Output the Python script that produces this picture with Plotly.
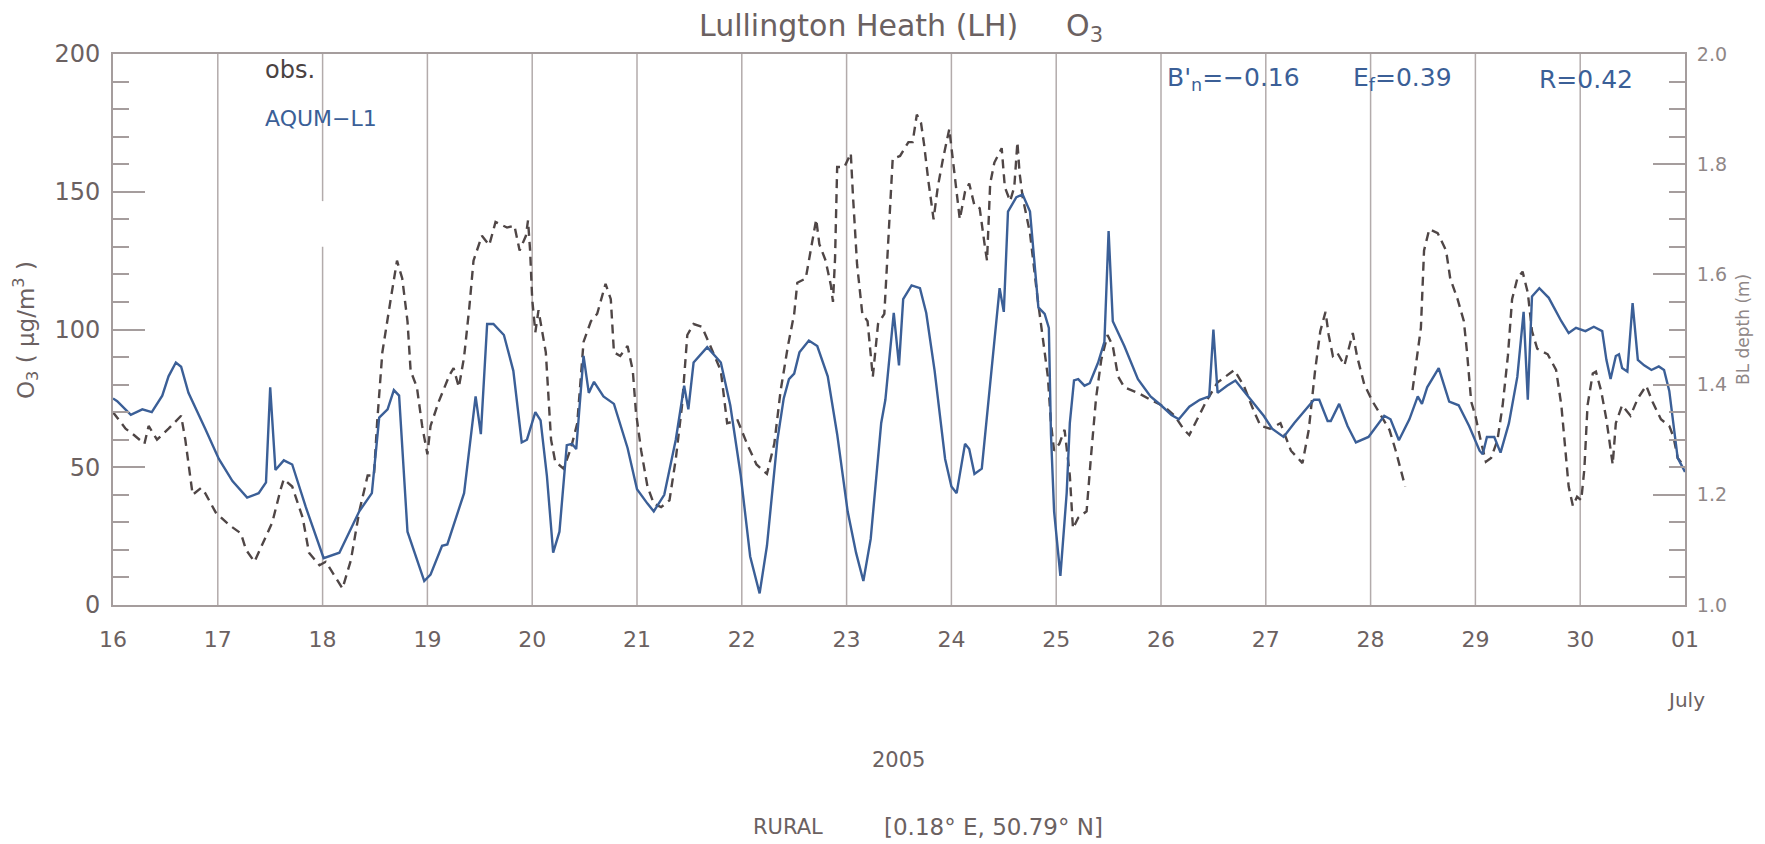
import plotly.graph_objects as go

# ---------------- data ----------------
x_tick_vals = list(range(16, 32))
x_tick_text = ["16", "17", "18", "19", "20", "21", "22", "23", "24", "25",
               "26", "27", "28", "29", "30", "01"]

mod_day = [16.00, 16.04, 16.17, 16.28, 16.37, 16.47, 16.53, 16.60, 16.65, 16.72, 16.88,
           17.01, 17.14, 17.28, 17.39, 17.46, 17.50, 17.55, 17.63, 17.71, 17.84,
           18.01, 18.16, 18.35, 18.47, 18.54, 18.62, 18.68, 18.73, 18.81, 18.97,
           19.03, 19.14, 19.19, 19.35, 19.46, 19.51, 19.57, 19.63, 19.73, 19.82, 19.90, 19.95,
           20.03, 20.08, 20.14, 20.20, 20.26, 20.33, 20.38, 20.42, 20.49, 20.54, 20.59, 20.68, 20.78, 20.91,
           21.00, 21.10, 21.16, 21.26, 21.37, 21.45, 21.49, 21.54, 21.67, 21.80, 21.89, 21.99,
           22.08, 22.17, 22.24, 22.34, 22.40, 22.45, 22.50, 22.55, 22.64, 22.72, 22.82, 22.91,
           23.01, 23.09, 23.16, 23.23, 23.33, 23.37, 23.41, 23.45, 23.50, 23.54, 23.62, 23.70, 23.76, 23.84, 23.94,
           24.00, 24.05, 24.13, 24.17, 24.22, 24.29, 24.38, 24.46, 24.50, 24.54, 24.62, 24.68, 24.75, 24.83, 24.89, 24.93, 24.95, 24.98,
           25.04, 25.10, 25.13, 25.17, 25.21, 25.27, 25.32, 25.40, 25.46, 25.50, 25.54, 25.65, 25.78, 25.90,
           26.00, 26.10, 26.17, 26.27, 26.37, 26.46, 26.50, 26.54, 26.63, 26.71, 26.79, 26.89, 26.98,
           27.06, 27.17, 27.27, 27.36, 27.46, 27.51, 27.59, 27.62, 27.70, 27.78, 27.86, 27.98,
           28.13, 28.19, 28.27, 28.37, 28.45, 28.49, 28.54, 28.65, 28.75, 28.84, 28.94,
           29.04, 29.07, 29.11, 29.18, 29.24, 29.32, 29.40, 29.46, 29.50, 29.54, 29.61, 29.70, 29.82, 29.89, 29.96,
           30.05, 30.13, 30.21, 30.25, 30.29, 30.34, 30.37, 30.40, 30.45, 30.50, 30.55, 30.61, 30.68, 30.75, 30.80, 30.85, 30.93, 31.00]
mod_o3 = [75, 74, 69, 71, 70, 76, 83, 88, 86.5, 77, 64,
          53, 45, 39, 40.6, 44.5, 79, 49, 52.5, 51, 35.5,
          17, 19, 34, 40.6, 68, 71, 78, 76, 26.6, 8.7,
          11, 21.5, 22, 40.6, 75.7, 62, 102, 102, 98, 85, 59, 60,
          70, 67, 47, 19, 26.6, 58, 58.5, 56.6, 90.4, 77, 81, 75.7, 73, 57,
          42, 36.8, 34, 40, 60, 79.6, 71, 88, 93.6, 88, 72.5, 47,
          17.6, 4.2, 21.5, 60, 75, 82, 84, 91.7, 96, 94, 83, 62,
          34, 19, 8.7, 24, 66, 74.5, 90, 106, 87, 111, 116, 115, 106, 85, 53,
          43, 40.6, 58.5, 56.6, 47.6, 49.5, 83, 115, 106.4, 142.8, 148, 149, 142.8, 108, 105.7, 100.6, 62, 34,
          10.6, 40.6, 66, 81.5, 82, 79.6, 80.5, 88, 95.5, 135.7, 103, 94, 82, 75.7,
          72.5, 69, 67.4, 72, 74.5, 75.7, 100, 77, 79.6, 81.5, 77.7, 73, 68.7,
          64, 61, 66, 70, 74.5, 74.5, 66.8, 66.8, 73, 65, 59, 61,
          68.7, 67.4, 59.8, 67.4, 75.7, 73, 79, 86, 73.8, 72.5, 65,
          56, 54.7, 61, 61, 55.3, 66, 82.8, 106.4, 74.5, 112, 115, 111.5, 103, 98.7, 100.6,
          99.4, 101, 99.4, 89, 82, 90.4, 91, 86, 84.7, 109.6, 89, 87, 85.3, 86.6, 85.3, 77.7, 53.4, 48.3]

obs_day = [16.00, 16.04, 16.12, 16.20, 16.30, 16.34, 16.42, 16.53, 16.65, 16.69, 16.76, 16.84, 16.88, 16.98,
           17.11, 17.22, 17.27, 17.35, 17.42, 17.52, 17.60, 17.63, 17.71, 17.81, 17.87, 17.97,
           18.03, 18.12, 18.19, 18.27, 18.35, 18.43, 18.49, 18.52, 18.57, 18.65, 18.71, 18.76, 18.81, 18.84, 18.90, 18.95,
           19.00, 19.03, 19.11, 19.21, 19.25, 19.30, 19.35, 19.40, 19.44, 19.52, 19.59, 19.65, 19.73, 19.76, 19.83, 19.88, 19.94, 19.96, 19.98,
           20.00, 20.03, 20.06, 20.13, 20.18, 20.22, 20.30, 20.37, 20.43, 20.49, 20.56, 20.62, 20.70, 20.75, 20.78, 20.84, 20.91, 20.96, 20.99,
           21.04, 21.10, 21.16, 21.23, 21.31, 21.37, 21.43, 21.48, 21.54, 21.62, 21.70, 21.80, 21.86, 21.96,
           22.05, 22.14, 22.24, 22.31, 22.37, 22.44, 22.50, 22.53, 22.61, 22.66, 22.71, 22.74, 22.80, 22.85, 22.87, 22.89, 22.91, 22.98,
           23.04, 23.06, 23.10, 23.15, 23.20, 23.25, 23.30, 23.36, 23.40, 23.44, 23.51, 23.59, 23.63, 23.67, 23.71, 23.74, 23.78, 23.83, 23.87, 23.92, 23.98,
           24.02, 24.05, 24.08, 24.13, 24.17, 24.22, 24.27, 24.32, 24.34, 24.37, 24.41, 24.48, 24.51, 24.56, 24.60, 24.63, 24.65, 24.68, 24.75, 24.82, 24.89, 24.92, 24.95, 24.98,
           25.03, 25.08, 25.13, 25.16, 25.21, 25.29, 25.33, 25.38, 25.43, 25.49, 25.54, 25.59, 25.65, 25.78, 25.90,
           26.03, 26.13, 26.22, 26.27, 26.35, 26.43, 26.54, 26.70, 26.79, 26.89, 26.95,
           27.04, 27.14, 27.20, 27.24, 27.35, 27.41, 27.47, 27.52, 27.57, 27.60, 27.64, 27.68, 27.75, 27.79, 27.83, 27.87, 27.94,
           28.02, 28.10, 28.18, 28.24, 28.30, 28.33, 28.36, 28.40, 28.43, 28.48, 28.51, 28.56, 28.64, 28.72, 28.76, 28.83, 28.89, 28.92, 28.96,
           29.00, 29.05, 29.10, 29.15, 29.21, 29.26, 29.31, 29.35, 29.40, 29.45, 29.50, 29.54, 29.59, 29.69, 29.77, 29.82, 29.86, 29.89, 29.93, 29.97,
           30.01, 30.04, 30.07, 30.12, 30.15, 30.20, 30.25, 30.28, 30.31, 30.34, 30.40, 30.48, 30.55, 30.63, 30.69, 30.77, 30.85, 30.89, 30.93, 30.98]
obs_o3 = [70, 68, 64, 61.7, 58.5, 65, 60, 64, 68.7, 60, 40, 42.5, 40.6, 33.6,
          29, 26, 20, 15.7, 21.5, 30, 42, 45.7, 43, 31.7, 19, 14.4,
          15.7, 10, 6, 16.3, 34, 47, 47, 66, 91.7, 111, 125, 118.5, 103, 85, 79, 65,
          54.7, 65, 74, 83.4, 86, 79, 90, 108, 125, 134, 130.6, 139, 137.7, 137, 137.7, 128.7, 134, 139.6, 128.7,
          111, 99, 107, 91.7, 60, 52, 49.5, 57, 66, 95.5, 103, 105.7, 116.6, 111, 91.7, 90.4, 94, 85, 70,
          56, 43, 36.8, 35.5, 38, 53, 72.5, 98, 102, 101, 94, 85, 66, 67,
          58.5, 51, 47.6, 58.5, 77.7, 94, 105.7, 117, 118.5, 128.7, 140, 131, 125, 116, 110, 126, 159, 159,
          164, 149, 123.6, 105.7, 103, 82.8, 102, 105.7, 132.6, 162, 163, 168, 168, 178, 175, 167, 154, 140, 151.7, 162, 172.8,
          160, 149, 140, 150, 153, 145, 144, 130, 125, 153, 160.6, 165.8, 151.7, 146.6, 151.7, 168, 157, 148, 135, 112, 91.7, 83, 66, 56,
          58.5, 63.6, 47, 27.8, 31.7, 34, 53, 75, 89, 98, 94, 83, 79, 77, 74.5,
          72, 68.7, 63.6, 61.7, 68, 73.8, 80.8, 85.3, 79.6, 70, 65,
          64, 66, 60, 56, 51.5, 63.6, 85, 99.4, 106.4, 98, 90.4, 91.7, 87, 93, 98.7, 90.4, 80,
          73.8, 68.7, 63.6, 56, 47, 43, None, 78, 87, 100.6, 128.7, 136.4, 135, 128.7, 118.5, 111, 103, 91.7, 73.8,
          68.7, 59.8, 52, 53.4, 59.8, 72.5, 90.4, 111, 118.5, 121, 113.4, 99.4, 93, 91, 85.3, 72.5, 56, 43, 36, 39.3,
          38, 49.5, 72.5, 84, 84.7, 77.7, 67.4, 59.8, 51, 66, 72.5, 68.7, 75, 79.6, 73.8, 67.4, 65, 61, 53.4, 51]

# ---------------- styling ----------------
W, H = 1765, 844
L, R, T, B = 113, 1685, 54, 605   # plot area in page pixels
FONT = "DejaVu Sans"
TXT = "#6b6161"
AXC = "#a59d9d"
GRID = "#b3abab"
BLUE = "#3b5f97"
DASHC = "#4f4646"


def px(xp):
    return (xp - L) / (R - L)


def py(yp):
    return (B - yp) / (B - T)


fig = go.Figure()

fig.add_trace(go.Scatter(x=obs_day, y=obs_o3, mode="lines", name="obs.",
                         line=dict(color=DASHC, width=2.4, dash="9px,6px"),
                         connectgaps=False))
fig.add_trace(go.Scatter(x=mod_day, y=mod_o3, mode="lines", name="AQUM-L1",
                         line=dict(color=BLUE, width=2.4)))
# invisible trace to activate right axis
fig.add_trace(go.Scatter(x=[16], y=[1.0], yaxis="y2", mode="markers",
                         marker=dict(opacity=0), showlegend=False, hoverinfo="skip"))

shapes = []
for d in range(17, 31):
    if d == 18:
        shapes.append(dict(type="line", xref="x", yref="y", x0=d, x1=d, y0=0, y1=130,
                           line=dict(color=GRID, width=1.5), layer="below"))
        shapes.append(dict(type="line", xref="x", yref="y", x0=d, x1=d, y0=146.6, y1=200,
                           line=dict(color=GRID, width=1.5), layer="below"))
    else:
        shapes.append(dict(type="line", xref="x", yref="y", x0=d, x1=d, y0=0, y1=200,
                           line=dict(color=GRID, width=1.5), layer="below"))

ann = []


def add(text, xp, yp, size, color=TXT, xanchor="center", angle=0, yanchor="middle"):
    ann.append(dict(text=text, x=px(xp), y=py(yp), xref="paper", yref="paper",
                    showarrow=False, xanchor=xanchor, yanchor=yanchor, textangle=angle,
                    font=dict(family=FONT, size=size, color=color)))


add("Lullington Heath (LH)     O<sub>3</sub>", 901, 28, 30)
add("O<sub>3</sub> ( μg/m<sup>3</sup> )", 25, 330, 23, angle=-90)
add("BL depth (m)", 1743, 330, 17, color="#8f8787", angle=-90)
add("obs.", 263, 70, 24, color="#4a4242", xanchor="left")
add("AQUM−L1", 263, 119, 22, color=BLUE, xanchor="left")
add("B'<sub>n</sub>=−0.16", 1165, 79, 25, color=BLUE, xanchor="left")
add("E<sub>f</sub>=0.39", 1351, 79, 25, color=BLUE, xanchor="left")
add("R=0.42", 1537, 79, 25, color=BLUE, xanchor="left")
add("July", 1686, 700, 20)
add("2005", 898, 760, 21)
add("RURAL", 788, 827, 21)
add("[0.18° E, 50.79° N]", 993, 827, 23)

fig.update_layout(
    width=W, height=H,
    margin=dict(l=L, r=W - R, t=T, b=H - B, pad=0),
    paper_bgcolor="white", plot_bgcolor="white",
    showlegend=False,
    shapes=shapes,
    annotations=ann,
    xaxis=dict(range=[16, 31], tickvals=x_tick_vals, ticktext=x_tick_text,
               showgrid=False, zeroline=False, ticks="", showline=True, mirror=True,
               linecolor=AXC, linewidth=2,
               tickfont=dict(family=FONT, size=22, color=TXT), ticklabelstandoff=14),
    yaxis=dict(range=[0, 200], tickvals=[0, 50, 100, 150, 200], showgrid=False, zeroline=False,
               ticks="inside", ticklen=32, tickwidth=2, tickcolor=AXC,
               minor=dict(ticks="inside", ticklen=16, dtick=10, tickwidth=2, tickcolor=AXC, showgrid=False),
               showline=True, linecolor=AXC, linewidth=2,
               tickfont=dict(family=FONT, size=24, color=TXT), ticklabelstandoff=6),
    yaxis2=dict(range=[1.0, 2.0], overlaying="y", side="right",
                tickvals=[1.0, 1.2, 1.4, 1.6, 1.8, 2.0], ticktext=["1.0", "1.2", "1.4", "1.6", "1.8", "2.0"],
                showgrid=False, zeroline=False,
                ticks="inside", ticklen=32, tickwidth=2, tickcolor=AXC,
                minor=dict(ticks="inside", ticklen=16, dtick=0.05, tickwidth=2, tickcolor=AXC, showgrid=False),
                showline=True, linecolor=AXC, linewidth=2,
                tickfont=dict(family=FONT, size=19, color="#8f8787"), ticklabelstandoff=6),
)

# remove the default 8px page margin so the figure fills the window exactly
fig.write_html("out.html", config={"displayModeBar": False},
               post_script="document.body.style.margin='0px';")
